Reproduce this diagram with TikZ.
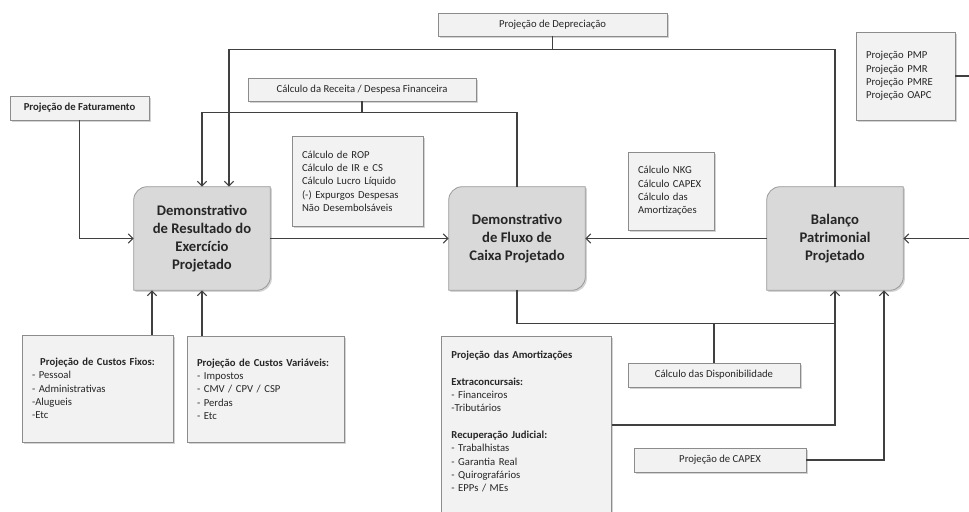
\documentclass[tikz,border=0pt]{standalone}
\usepackage{fontspec}
\setmainfont{Carlito}
\usetikzlibrary{positioning,calc,shadows,backgrounds,arrows.meta}
\definecolor{boxfill}{HTML}{F2F2F2}
\definecolor{boxline}{HTML}{8C8C8C}
\definecolor{keyfill}{HTML}{D9D9D9}
\definecolor{keyline}{HTML}{9A9A9A}
\definecolor{wirecol}{HTML}{404040}
\definecolor{ink}{HTML}{262626}
\tikzset{
  box/.style={draw=boxline, fill=boxfill, line width=0.6pt, text=ink, inner sep=0pt,
    drop shadow={shadow xshift=1.2pt, shadow yshift=-1.2pt, opacity=0.35},
    font=\fontsize{8}{10}\selectfont},
  listbox/.style={box, align=left, inner xsep=7.5pt},
  keytext/.style={minimum width=102pt, minimum height=77.25pt, align=center, text=ink,
    font=\fontsize{11}{13.5}\selectfont\bfseries},
  keyshape/.style={draw=keyline, fill=keyfill, line width=0.6pt,
    drop shadow={shadow xshift=1.2pt, shadow yshift=-1.2pt, opacity=0.35}},
  wire/.style={draw=wirecol, line width=0.8pt},
}
% main statement box: rounded top left and bottom right
\newcommand\keybox[3]{%
  \node[keytext] (#1) at (#2) {#3};
  \begin{scope}[on background layer]
    \path[keyshape] (#1.west) [rounded corners=10pt] -- (#1.north west)
      [sharp corners] -- (#1.north east) [rounded corners=10pt] -- (#1.south east)
      [sharp corners] -- (#1.south west) -- cycle;
  \end{scope}}

\begin{document}
\begin{tikzpicture}[x=0.75pt,y=-0.75pt,>={Straight Barb[length=3.5pt,width=7pt]}]
\useasboundingbox (0,0) rectangle (969,511);
\clip (0,0) rectangle (969,511);

% inputs on top
\node[box, minimum width=104.25pt, minimum height=18pt, font=\fontsize{8}{10}\selectfont\bfseries] (fat) at (79.5,108) {Projeção de Faturamento};
\node[box, minimum width=171.75pt, minimum height=17.25pt] (dep) at (552.5,24.5) {Projeção de Depreciação};
\node[box, minimum width=171pt, minimum height=17.25pt] (rec) at (362,89.5) {Cálculo da Receita / Despesa Financeira};
\node[listbox, text width=83.25pt, minimum height=67.5pt] (rop) at (357.5,181) {Cálculo de ROP\\ Cálculo de IR e CS\\ Cálculo Lucro Líquido\\ (-) Expurgos Despesas\\ Não Desembolsáveis};
\node[listbox, text width=49.5pt, minimum height=58.5pt] (nkg) at (671,191) {Cálculo NKG\\ Cálculo CAPEX\\ Cálculo das\\ Amortizações};
\node[listbox, text width=59.25pt, minimum height=66pt] (pmp) at (905.5,76) {Projeção PMP\\ Projeção PMR\\ Projeção PMRE\\ Projeção OAPC};

% statements
\keybox{dre}{202,238.5}{Demonstrativo\\ de Resultado do\\ Exercício\\ Projetado}
\keybox{dfc}{517,238.5}{Demonstrativo\\ de Fluxo de\\ Caixa Projetado}
\keybox{bp}{835,238.5}{Balanço\\ Patrimonial\\ Projetado}

% inputs below
\node[listbox, text width=98.25pt, minimum height=80.25pt] (fix) at (97.5,388.5) {\makebox[\linewidth]{\bfseries Projeção de Custos Fixos:}\\ - Pessoal\\ - Administrativas\\ -Alugueis\\ -Etc};
\node[listbox, text width=102.75pt, minimum height=79.5pt] (var) at (265.5,389) {\mbox{\bfseries Projeção de Custos Variáveis:}\\ - Impostos\\ - CMV / CPV / CSP\\ - Perdas\\ - Etc};
\node[listbox, anchor=north west, text width=112.5pt, inner ysep=11pt] (amort) at (441,336) {\textbf{Projeção das Amortizações}\\[10pt] \textbf{Extraconcursais:}\\ - Financeiros\\ -Tributários\\[10pt] \textbf{Recuperação Judicial:}\\ - Trabalhistas\\ - Garantia Real\\ - Quirografários\\ - EPPs / MEs\rule[-30pt]{0pt}{0pt}};
\node[box, minimum width=129pt, minimum height=18pt] (disp) at (714,375) {Cálculo das Disponibilidade};
\node[box, minimum width=129pt, minimum height=18pt] (capex) at (720,460) {Projeção de CAPEX};

% junctions
\coordinate (depj) at ($(dep.south)+(0,13)$);
\coordinate (recj) at ($(rec.south)+(0,11)$);
\coordinate (flow) at ($(bp.south)+(0,33)$);
\coordinate (dreB) at ($(dre.south)+(-50,0)$);

% connectors
\draw[wire,->] (fat.south) |- (dre.west);
\draw[wire] (dep) -- (depj);
\draw[wire,->] (depj) -| ($(dre.north)+(27,0)$);
\draw[wire] (depj) -| (bp.north);
\draw[wire] (rec) -- (recj);
\draw[wire,->] (recj) -| (dre.north);
\draw[wire] (recj) -| (dfc.north);
\draw[wire,->] (dre) -- (dfc);
\draw[wire,->] (bp) -- (dfc);
\draw[wire,->] (pmp.east) -| ($(bp.east)+(75,0)$) -- (bp.east);
\draw[wire,->] (fix.north -| dreB) -- (dreB);
\draw[wire,->] (var.north -| dre.south) -- (dre.south);
\draw[wire] (dfc.south) |- (flow);
\draw[wire] (disp) -- (disp |- flow);
\draw[wire,->] ($(amort.north east)+(0,89)$) -| (bp.south);
\draw[wire,->] (capex.east) -| ($(bp.south)+(49,0)$);
\end{tikzpicture}
\end{document}
